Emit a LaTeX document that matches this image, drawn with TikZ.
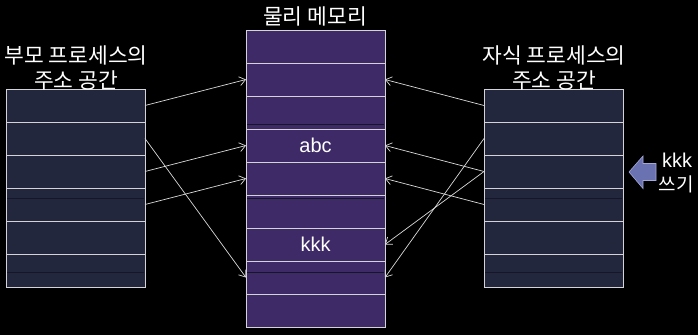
\documentclass[tikz,border=0pt]{standalone}
\usepackage{fontspec}
\setmainfont{Liberation Sans}
\newfontfamily\kr{Noto Sans CJK KR}
\usetikzlibrary{arrows.meta}
\definecolor{procfill}{HTML}{22273D}
\definecolor{memfill}{HTML}{3D2A66}
\definecolor{cellline}{HTML}{D4D4D8}
\definecolor{linkcol}{HTML}{DADADA}
\definecolor{seam}{HTML}{16162A}
\definecolor{writefill}{HTML}{6A72B2}
\definecolor{writeedge}{HTML}{A4A9D6}
\begin{document}
\begin{tikzpicture}[x=1pt,y=-1pt,
  cell/.style={draw=cellline,line width=0.9pt,minimum width=139pt,minimum height=33pt,
    inner sep=0pt,outer sep=0pt,anchor=north west,text=white,
    font=\fontsize{20}{24}\selectfont},
  proc/.style={cell,fill=procfill},
  mem/.style={cell,fill=memfill},
  link/.style={draw=linkcol,line width=0.7pt,-{Straight Barb[length=6pt,width=9pt]}},
  seamline/.style={draw=seam,line width=0.8pt},
  title/.style={text=white,align=center,inner sep=0pt,font=\kr\fontsize{21.5}{25}\selectfont}]
\fill[black] (0,0) rectangle (698,335);
\useasboundingbox (0,0) rectangle (698,335);

% physical memory: nine frames
\foreach \i in {1,...,9}{
  \node[mem] (M\i) at (246,{30+33*(\i-1)}) {};
}
\node[text=white,font=\fontsize{20}{24}\selectfont] at (M4) {abc};
\node[text=white,font=\fontsize{20}{24}\selectfont] at (M7) {kkk};

% parent and child address spaces: six pages each
\foreach \i in {1,...,6}{
  \node[proc] (L\i) at (6,{89+33*(\i-1)}) {};
  \node[proc] (R\i) at (484,{89+33*(\i-1)}) {};
}

% faint seams across the blocks
\draw[seamline] (7,198) -- (144,198) (7,272.5) -- (144,272.5);
\draw[seamline] (485,198) -- (622,198) (485,272.5) -- (622,272.5);
\draw[seamline] (247,124.5) -- (384,124.5) (247,198) -- (384,198) (247,272.5) -- (384,272.5);

% titles
\node[title] (tmem) at (315,16) {물리 메모리};
\node[title] (tpar) at (76,67.5) {부모 프로세스의\\주소 공간};
\node[title] (tchi) at (554,67.5) {자식 프로세스의\\주소 공간};

% parent page table
\draw[link] (L1.east) -- (M2.west);
\draw[link] (L2.east) -- (M8.west);
\draw[link] (L3.east) -- (M4.west);
\draw[link] (L4.east) -- (M5.west);

% child page table
\draw[link] (R1.west) -- (M2.east);
\draw[link] (R3.west) -- (M4.east);
\draw[link] (R4.west) -- (M5.east);
\draw[link] (R2.west) -- (M8.east);
\draw[link] (R3.west) -- (M7.east);

% write marker
\draw[fill=writefill,draw=writeedge,line width=0.6pt]
  (629,172) -- (643,156) -- (643,163.5) -- (656,163.5) -- (656,180.5)
  -- (643,180.5) -- (643,188.5) -- cycle;
\node[text=white,inner sep=0pt,font=\fontsize{20}{24}\selectfont] (wk) at (677,160) {kkk};
\node[text=white,inner sep=0pt,font=\kr\fontsize{19}{24}\selectfont] (ww) at (676,184) {쓰기};
\end{tikzpicture}
\end{document}
